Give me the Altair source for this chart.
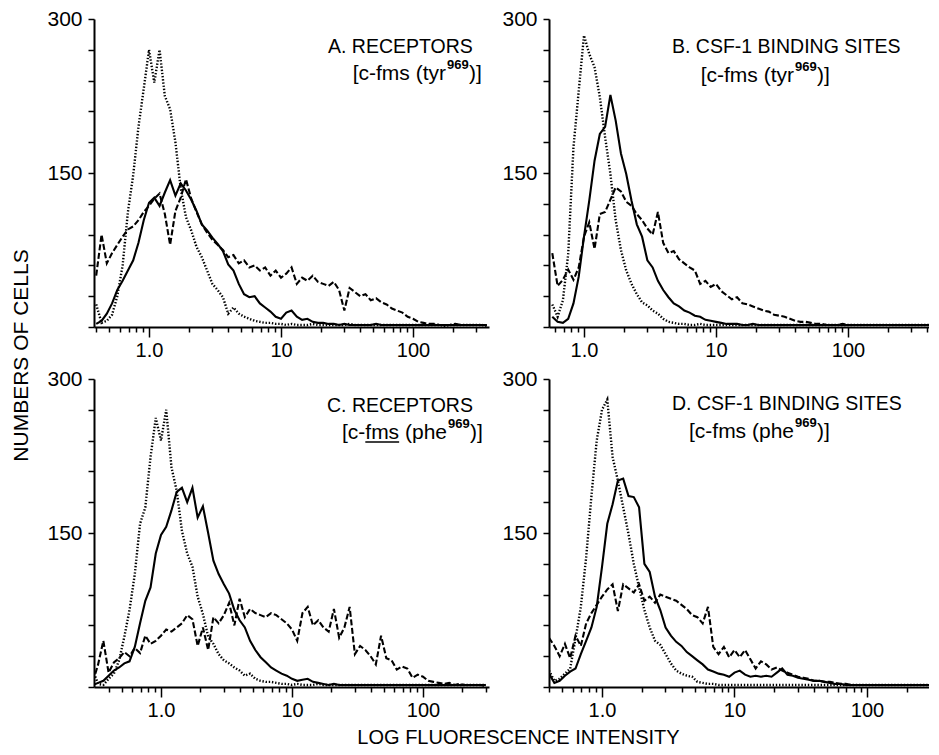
import altair as alt
import pandas as pd

N = None
FONT = "Liberation Sans, sans-serif"

# log-spaced fluorescence channels shared by all panels
X_GRID = [0.302, 0.331, 0.363, 0.398, 0.437, 0.479, 0.525, 0.575, 0.631, 0.692,
          0.759, 0.832, 0.912, 1.000, 1.096, 1.202, 1.318, 1.445, 1.585, 1.738,
          1.905, 2.089, 2.291, 2.512, 2.754, 3.020, 3.311, 3.631, 3.981, 4.365,
          4.786, 5.248, 5.754, 6.310, 6.918, 7.586, 8.318, 9.120, 10.00, 10.96,
          12.02, 13.18, 14.45, 15.85, 17.38, 19.05, 20.89, 22.91, 25.12, 27.54,
          30.20, 33.11, 36.31, 39.81, 43.65, 47.86, 52.48, 57.54, 63.10, 69.18,
          75.86, 83.18, 91.20, 100.0, 109.6, 120.2, 131.8, 144.5, 158.5, 173.8,
          190.5, 208.9, 229.1, 251.2, 275.4, 302.0, 331.1, 363.1, 398.1, 436.5,
          478.6]

A_DOTTED = [N, N, N, 22, 4, 6, 12, 30, 60, 112,
            148, 195, 232, 270, 238, 270, 225, 212, 180, 135,
            107, 94, 78, 68, 55, 42, 36, 29, 13, 19,
            13, 10, 8, 6, 5, 4, 4, 3, 3, 2,
            3, 2, 2, 2, 3, 2, 2, 2, 2, 2,
            2, 3, 2, 2, 2, 2, 2, 2, 2, 2,
            2, 2, 2, 2, 2, 2, 2, 2, 2, 1,
            2, 2, 2, 2, 2, 2, 2, 1, N, N,
            N]
A_SOLID = [N, N, N, 3, 6, 13, 23, 36, 45, 55,
           65, 82, 104, 121, 126, 118, 131, 143, 128, 140,
           133, 124, 113, 100, 94, 87, 81, 74, 61, 55,
           42, 32, 29, 30, 23, 19, 15, 10, 8, 14,
           16, 10, 7, 8, 5, 4, 4, 3, 3, 2,
           3, 2, 2, 2, 2, 2, 3, 2, 2, 2,
           2, 2, 2, 2, 2, 2, 2, 2, 2, 2,
           2, 2, 2, 2, 2, 2, 2, 2, N, N,
           N]
A_DASHED = [N, N, N, 50, 90, 62, 72, 80, 88, 95,
            98, 104, 112, 118, 125, 130, 110, 80, 113, 126,
            144, 125, 112, 100, 92, 85, 80, 75, 68, 70,
            62, 65, 58, 60, 55, 58, 50, 55, 48, 52,
            58, 42, 48, 45, 50, 44, 42, 40, 44, 36,
            16, 38, 34, 30, 32, 26, 28, 24, 22, 18,
            16, 14, 10, 8, 5, 4, 3, 3, 2, 2,
            2, 3, 2, 2, 2, 2, 2, 2, N, N,
            N]

B_DOTTED = [N, N, N, N, N, N, N, 22, 10, 26,
            71, 175, 230, 284, 266, 253, 224, 185, 149, 104,
            75, 55, 42, 32, 24, 21, 16, 13, 8, 5,
            4, 3, 3, 2, 2, 3, 2, 2, 2, 2,
            2, 2, 2, 2, 2, 2, 2, 2, 2, 2,
            2, 2, 2, 2, 2, 2, 2, 2, 2, 2,
            2, 2, 2, 2, 2, 2, 2, 2, 2, 2,
            2, 2, 2, 2, 2, 2, 2, 2, 2, 2,
            N]
B_SOLID = [N, N, N, N, N, N, N, 10, 5, 4,
           8, 23, 49, 88, 123, 162, 188, 195, 226, 201,
           169, 149, 123, 100, 88, 65, 58, 45, 36, 29,
           23, 20, 16, 14, 11, 10, 7, 6, 5, 4,
           3, 3, 3, 2, 2, 3, 2, 2, 2, 2,
           2, 2, 2, 2, 2, 2, 2, 2, 2, 2,
           2, 2, 2, 2, 2, 2, 2, 2, 2, 2,
           2, 2, 2, 2, 2, 2, 2, 2, 2, 2,
           N]
B_DASHED = [N, N, N, N, N, N, N, 72, 40, 46,
            56, 46, 58, 88, 102, 76, 110, 112, 124, 136,
            132, 122, 118, 110, 104, 96, 90, 112, 82, 72,
            74, 66, 62, 58, 55, 42, 45, 39, 42, 35,
            31, 27, 29, 23, 22, 20, 18, 16, 15, 12,
            11, 10, 8, 6, 5, 5, 4, 3, 3, 2,
            2, 2, 3, 2, 2, 2, 2, 2, 2, 2,
            2, 2, 2, 2, 2, 2, 2, 2, 2, 2,
            N]

C_DOTTED = [16, 3, 2, 8, 13, 26, 49, 75, 110, 159,
            175, 224, 262, 240, 270, 214, 191, 152, 130, 117,
            88, 71, 49, 42, 32, 26, 23, 19, 16, 11,
            13, 8, 6, 5, 5, 4, 3, 3, 2, 3,
            2, 2, 2, 3, 2, 2, 2, 2, 2, 2,
            2, 2, 2, 2, 2, 2, 2, 2, 2, 2,
            2, 2, 2, 2, 2, 2, 2, 2, 2, 2,
            2, 2, 2, 2, 2, 2, N, N, N, N,
            N]
C_SOLID = [2, 4, 6, 11, 16, 19, 23, 25, 39, 62,
           84, 97, 130, 148, 156, 172, 190, 194, 180, 194,
           165, 176, 150, 123, 110, 100, 91, 75, 65, 58,
           45, 36, 29, 24, 19, 16, 13, 11, 8, 6,
           7, 8, 5, 4, 3, 2, 3, 2, 2, 2,
           2, 2, 2, 2, 2, 2, 2, 2, 2, 2,
           2, 2, 2, 2, 2, 2, 2, 2, 2, 2,
           2, 2, 2, 2, 2, 2, N, N, N, N,
           N]
C_DASHED = [5, 22, 45, 14, 24, 28, 34, 30, 38, 33,
            50, 42, 45, 50, 56, 54, 58, 62, 70, 66,
            40, 58, 36, 68, 62, 70, 82, 60, 86, 68,
            76, 72, 70, 68, 72, 70, 66, 62, 56, 45,
            72, 78, 60, 65, 58, 54, 76, 48, 58, 78,
            32, 40, 36, 30, 22, 50, 28, 26, 17, 20,
            18, 9, 12, 10, 6, 5, 4, 3, 4, 2,
            3, 2, 2, 2, 2, 1, N, N, N, N,
            N]

D_DOTTED = [N, N, N, 16, 6, 8, 13, 18, 47, 78,
            126, 186, 240, 270, 280, 224, 201, 175, 149, 120,
            97, 75, 58, 45, 41, 32, 23, 16, 13, 11,
            10, 5, 4, 3, 3, 2, 2, 2, 2, 2,
            2, 2, 2, 2, 2, 2, 2, 2, 2, 2,
            2, 2, 2, 2, 2, 2, 2, 2, 2, 2,
            2, 2, 2, 2, 2, 2, 2, 2, 2, 2,
            2, 2, 2, 2, 2, 2, 2, N, N, N,
            N]
D_SOLID = [N, N, N, 13, 4, 6, 11, 15, 18, 32,
           45, 58, 78, 117, 159, 178, 201, 203, 186, 185,
           175, 120, 112, 88, 75, 58, 50, 44, 40, 34,
           30, 26, 22, 17, 15, 13, 12, 10, 14, 16,
           12, 10, 11, 10, 11, 10, 14, 18, 12, 11,
           9, 8, 7, 6, 6, 5, 4, 3, 3, 2,
           2, 2, 2, 2, 2, 2, 2, 2, 2, 2,
           2, 2, 2, 2, 2, 2, 2, N, N, N,
           N]
D_DASHED = [N, N, N, 48, 40, 30, 42, 28, 50, 40,
            62, 72, 80, 88, 95, 100, 74, 100, 96, 92,
            100, 84, 88, 82, 90, 88, 86, 84, 80, 76,
            70, 68, 62, 78, 39, 32, 39, 29, 36, 29,
            36, 27, 18, 25, 22, 17, 19, 16, 14, 12,
            10, 9, 8, 6, 6, 5, 5, 4, 3, 3,
            2, 2, 2, 2, 2, 2, 2, 2, 2, 2,
            2, 2, 2, 2, 2, 2, 2, N, N, N,
            N]

X_TICKS = [0.3, 0.4, 0.5, 0.6, 0.7, 0.8, 0.9, 1, 2, 3, 4, 5, 6, 7, 8, 9,
           10, 20, 30, 40, 50, 60, 70, 80, 90, 100, 200, 300, 400]
MAJOR = [1, 10, 100]
MAJOR_LABELS = ["1.0", "10", "100"]
Y_TICKS = [0, 30, 60, 90, 120, 150, 180, 210, 240, 270, 300]
Y_LABELED = [150, 300]

TITLES = {"A": "A. RECEPTORS", "B": "B. CSF-1 BINDING SITES",
          "C": "C. RECEPTORS", "D": "D. CSF-1 BINDING SITES"}
SUBS = {"A": "[c-fms (tyr", "B": "[c-fms (tyr", "C": "[c-fms (phe", "D": "[c-fms (phe"}
SUP = "969"
SUB_END = ")]"

X_LABEL_EXPR = " : ".join(f"datum.value == {v} ? '{t}'" for v, t in zip(MAJOR, MAJOR_LABELS)) + " : ''"
MAJOR_TEST = " || ".join(f"datum.value == {v}" for v in MAJOR)
Y_LABEL_EXPR = " : ".join(f"datum.value == {v} ? '{v}'" for v in Y_LABELED) + " : ''"

H = 308
SUB_SIZE = 21
# Liberation Sans advance widths (em) used to place the underline under "fms"
FMS_EM = 0.278 + 0.833 + 0.5
TAIL_EM = 0.278 + 0.333 + 0.556 + 0.556 + 0.556   # " (phe"


def series_df(vals):
    rows = [{"x": x, "y": y} for x, y in zip(X_GRID, vals) if y is not None]
    return pd.DataFrame(rows)


def text_layer(t, x, y, size, align="left", weight="normal"):
    return alt.Chart(pd.DataFrame({"t": [t]})).mark_text(
        align=align, baseline="alphabetic", font=FONT, fontSize=size,
        fontWeight=weight, color="black"
    ).encode(text="t:N", x=alt.value(x), y=alt.value(y))


def panel(key, curves, lo, hi, width, title_pos, sub_x0, sub_y, ytitle=False, xtitle=False,
          underline=False):
    xs = [t for t in X_TICKS if lo <= t <= hi]
    xaxis_kw = dict(values=xs, labelExpr=X_LABEL_EXPR,
                    tickSize={"condition": {"test": MAJOR_TEST, "value": 10}, "value": 5},
                    tickWidth=1.5, domainWidth=2, domainColor="black", tickColor="black",
                    labelColor="black", labelFont=FONT, labelFontSize=20,
                    labelPadding=3, labelOverlap=False, labelFlush=False, grid=False, title=None)
    if xtitle:
        xaxis_kw.update(title="LOG FLUORESCENCE INTENSITY", titleFont=FONT, titleFontSize=20,
                        titleFontWeight="normal", titleColor="black", titleX=424, titleY=56,
                        titleAlign="center", titleBaseline="alphabetic", titleAngle=0)
    yaxis_kw = dict(values=Y_TICKS, labelExpr=Y_LABEL_EXPR, tickSize=6, tickWidth=1.5,
                    domainWidth=2, domainColor="black", tickColor="black", labelColor="black",
                    labelFont=FONT, labelFontSize=21, labelPadding=6, labelOverlap=False,
                    grid=False, title=None)
    if ytitle:
        yaxis_kw.update(title="NUMBERS OF CELLS", titleFont=FONT, titleFontSize=21,
                        titleFontWeight="normal", titleColor="black", titleX=-67, titleY=336,
                        titleAngle=270, titleAlign="center", titleBaseline="alphabetic")
    xenc = alt.X("x:Q", scale=alt.Scale(type="log", domain=[lo, hi], nice=False),
                 axis=alt.Axis(**xaxis_kw))
    yenc = alt.Y("y:Q", scale=alt.Scale(domain=[0, 300], nice=False), axis=alt.Axis(**yaxis_kw))

    dotted, solid, dashed = curves
    layers = [
        alt.Chart(series_df(dotted)).mark_line(color="black", strokeWidth=2.4, strokeDash=[1.4, 1.8],
                                               clip=True).encode(x=xenc, y=yenc),
        alt.Chart(series_df(dashed)).mark_line(color="black", strokeWidth=2.1, strokeDash=[6, 2.5],
                                               clip=True).encode(x=xenc, y=yenc),
        alt.Chart(series_df(solid)).mark_line(color="black", strokeWidth=2.1,
                                              clip=True).encode(x=xenc, y=yenc),
    ]
    tx, ty = title_pos
    layers.append(text_layer(TITLES[key], tx, ty, 19.5))
    layers.append(text_layer(SUBS[key], sub_x0, sub_y, SUB_SIZE, align="right"))
    layers.append(text_layer(SUP, sub_x0 + 1, sub_y - 11, 13, weight="bold"))
    layers.append(text_layer(SUB_END, sub_x0 + 23, sub_y, SUB_SIZE))
    if underline:
        u_end = sub_x0 - TAIL_EM * SUB_SIZE
        u_start = u_end - FMS_EM * SUB_SIZE
        layers.append(
            alt.Chart(pd.DataFrame({"u": [0]})).mark_rule(color="black", strokeWidth=1.3).encode(
                x=alt.value(u_start), x2=alt.value(u_end), y=alt.value(sub_y + 3))
        )
    return alt.layer(*layers).properties(width=width, height=H)


pA = panel("A", (A_DOTTED, A_SOLID, A_DASHED), 0.383, 376.5, 395, (234, 34), 352, 61, ytitle=True)
pB = panel("B", (B_DOTTED, B_SOLID, B_DASHED), 0.543, 411.0, 380, (123, 34), 245, 63)
pC = panel("C", (C_DOTTED, C_SOLID, C_DASHED), 0.308, 319.0, 395, (233, 33), 353, 60, xtitle=True,
           underline=True)
pD = panel("D", (D_DOTTED, D_SOLID, D_DASHED), 0.398, 294.0, 380, (123, 31), 245, 59)

chart = alt.concat(pA, pB, pC, pD, columns=2, spacing={"row": 52, "column": 60},
                   bounds="flush").properties(
    padding={"left": 2, "top": 0, "right": 0, "bottom": 0},
    background="white",
).configure_view(stroke=None)

chart.save("out.html", embed_options={"renderer": "svg", "actions": False})
